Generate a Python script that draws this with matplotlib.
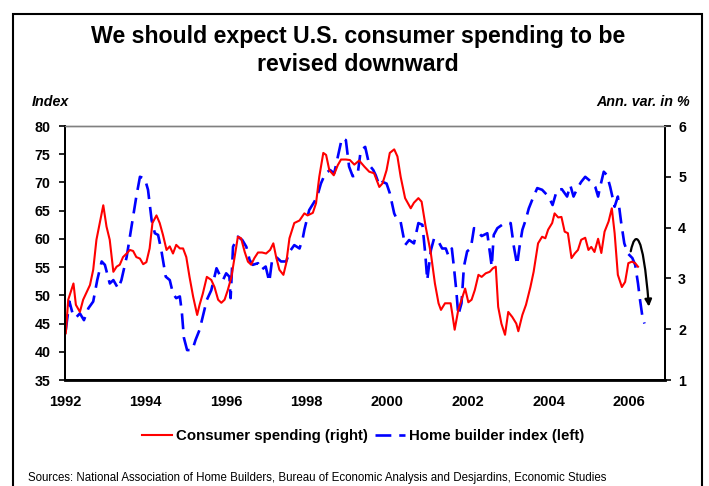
import matplotlib
matplotlib.use("Agg")
import matplotlib.pyplot as plt
from matplotlib.patches import FancyArrowPatch, Rectangle
from matplotlib.path import Path
from matplotlib.lines import Line2D

plt.rcParams['font.family'] = ['Liberation Sans', 'DejaVu Sans']

title = "We should expect U.S. consumer spending to be\nrevised downward"
left_label = "Index"
right_label = "Ann. var. in %"
source = ("Sources: National Association of Home Builders, Bureau of Economic Analysis "
          "and Desjardins, Economic Studies")
series_names = ["Consumer spending (right)", "Home builder index (left)"]
year_ticks = [1992, 1994, 1996, 1998, 2000, 2002, 2004, 2006]
left_ticks = [35, 40, 45, 50, 55, 60, 65, 70, 75, 80]
right_ticks = [1, 2, 3, 4, 5, 6]

# Consumer spending, annual variation in % (right axis)
cons_t = [1992.02, 1992.08, 1992.21, 1992.27, 1992.37, 1992.45, 1992.62, 1992.70, 1992.78, 1992.95,
          1993.03, 1993.11, 1993.20, 1993.28, 1993.36, 1993.44, 1993.53, 1993.61, 1993.69, 1993.77,
          1993.86, 1993.94, 1994.02, 1994.10, 1994.17, 1994.27, 1994.35, 1994.43, 1994.52, 1994.60,
          1994.68, 1994.76, 1994.85, 1994.93, 1995.01, 1995.09, 1995.18, 1995.28, 1995.34, 1995.42,
          1995.52, 1995.63, 1995.71, 1995.80, 1995.88, 1995.96, 1996.04, 1996.13, 1996.21, 1996.29,
          1996.37, 1996.46, 1996.54, 1996.62, 1996.70, 1996.79, 1996.89, 1996.99, 1997.09, 1997.17,
          1997.24, 1997.32, 1997.42, 1997.49, 1997.57, 1997.69, 1997.82, 1997.94, 1998.02, 1998.15,
          1998.23, 1998.31, 1998.41, 1998.48, 1998.56, 1998.67, 1998.77, 1998.85, 1998.97, 1999.07,
          1999.18, 1999.30, 1999.43, 1999.55, 1999.67, 1999.80, 1999.88, 1999.98, 2000.06, 2000.17,
          2000.25, 2000.33, 2000.44, 2000.58, 2000.66, 2000.77, 2000.85, 2000.95, 2001.08, 2001.18,
          2001.27, 2001.33, 2001.43, 2001.57, 2001.61, 2001.67, 2001.76, 2001.84, 2001.93, 2002.01,
          2002.09, 2002.17, 2002.26, 2002.34, 2002.44, 2002.54, 2002.62, 2002.69, 2002.75, 2002.83,
          2002.92, 2003.00, 2003.10, 2003.20, 2003.25, 2003.35, 2003.44, 2003.55, 2003.63, 2003.74,
          2003.84, 2003.92, 2003.99, 2004.09, 2004.15, 2004.24, 2004.32, 2004.40, 2004.48, 2004.57,
          2004.65, 2004.73, 2004.81, 2004.91, 2004.99, 2005.06, 2005.14, 2005.23, 2005.31, 2005.39,
          2005.49, 2005.57, 2005.64, 2005.72, 2005.82, 2005.90, 2005.98, 2006.07, 2006.15, 2006.22]
cons_v = [1.92, 2.58, 2.90, 2.48, 2.34, 2.58, 2.87, 3.17, 3.76, 4.44,
          4.02, 3.76, 3.13, 3.23, 3.27, 3.42, 3.49, 3.56, 3.54, 3.42,
          3.39, 3.28, 3.32, 3.59, 4.09, 4.24, 4.09, 3.86, 3.56, 3.63,
          3.49, 3.66, 3.59, 3.59, 3.42, 3.03, 2.64, 2.28, 2.48, 2.70,
          3.03, 2.97, 2.83, 2.58, 2.52, 2.58, 2.77, 3.03, 3.42, 3.82,
          3.79, 3.52, 3.33, 3.27, 3.40, 3.51, 3.51, 3.49, 3.56, 3.69,
          3.42, 3.17, 3.07, 3.30, 3.79, 4.09, 4.14, 4.28, 4.24, 4.29,
          4.48, 5.00, 5.47, 5.43, 5.13, 5.03, 5.23, 5.34, 5.34, 5.33,
          5.24, 5.32, 5.20, 5.10, 5.07, 4.80, 4.87, 5.13, 5.47, 5.54,
          5.40, 5.00, 4.58, 4.38, 4.49, 4.58, 4.51, 4.02, 3.49, 2.90,
          2.51, 2.38, 2.51, 2.51, 2.31, 1.99, 2.38, 2.58, 2.80, 2.53,
          2.58, 2.77, 3.07, 3.03, 3.10, 3.13, 3.20, 3.23, 2.44, 2.11,
          1.89, 2.34, 2.24, 2.11, 1.96, 2.28, 2.48, 2.83, 3.13, 3.69,
          3.82, 3.79, 3.96, 4.09, 4.28, 4.20, 4.21, 3.92, 3.89, 3.40,
          3.49, 3.56, 3.76, 3.80, 3.56, 3.62, 3.52, 3.78, 3.50, 3.92,
          4.12, 4.38, 3.89, 3.07, 2.83, 2.93, 3.30, 3.33, 3.30, 3.23]

# NAHB home builder index (left axis)
home_t = [1992.02, 1992.11, 1992.21, 1992.29, 1992.37, 1992.47, 1992.58, 1992.70, 1992.80, 1992.91,
          1992.99, 1993.11, 1993.20, 1993.32, 1993.40, 1993.53, 1993.65, 1993.77, 1993.86, 1993.98,
          1994.06, 1994.15, 1994.23, 1994.31, 1994.39, 1994.50, 1994.60, 1994.68, 1994.76, 1994.85,
          1994.90, 1994.95, 1995.03, 1995.16, 1995.24, 1995.34, 1995.44, 1995.52, 1995.63, 1995.76,
          1995.84, 1995.92, 1996.00, 1996.08, 1996.11, 1996.17, 1996.29, 1996.40, 1996.50, 1996.58,
          1996.66, 1996.79, 1996.87, 1996.98, 1997.07, 1997.14, 1997.24, 1997.36, 1997.49, 1997.57,
          1997.69, 1997.82, 1997.90, 1997.94, 1998.06, 1998.19, 1998.27, 1998.35, 1998.46, 1998.58,
          1998.68, 1998.79, 1998.87, 1998.97, 1999.05, 1999.14, 1999.26, 1999.34, 1999.45, 1999.55,
          1999.65, 1999.71, 1999.80, 1999.88, 1999.98, 2000.06, 2000.17, 2000.25, 2000.33, 2000.44,
          2000.54, 2000.66, 2000.77, 2000.87, 2000.94, 2000.99, 2001.08, 2001.16, 2001.27, 2001.36,
          2001.45, 2001.51, 2001.60, 2001.65, 2001.71, 2001.76, 2001.84, 2001.90, 2001.98, 2002.07,
          2002.15, 2002.21, 2002.34, 2002.48, 2002.59, 2002.64, 2002.73, 2002.85, 2002.95, 2003.06,
          2003.14, 2003.22, 2003.28, 2003.35, 2003.43, 2003.51, 2003.61, 2003.72, 2003.84, 2004.00,
          2004.10, 2004.21, 2004.33, 2004.46, 2004.54, 2004.62, 2004.71, 2004.81, 2004.91, 2005.06,
          2005.16, 2005.23, 2005.28, 2005.37, 2005.45, 2005.53, 2005.64, 2005.72, 2005.80, 2005.88,
          2005.97, 2006.08, 2006.15, 2006.22, 2006.27, 2006.33, 2006.38]
home_v = [43.9, 48.9, 46.2, 46.2, 46.8, 45.6, 47.7, 48.9, 52.7, 56.0,
          55.4, 52.1, 52.7, 51.2, 52.7, 56.8, 62.2, 67.5, 71.0, 70.7,
          68.7, 63.3, 61.0, 60.7, 58.0, 53.3, 52.7, 50.3, 49.5, 49.8,
          47.0, 42.5, 40.3, 40.3, 42.1, 43.9, 46.8, 49.2, 50.9, 54.8,
          53.6, 52.7, 53.9, 53.3, 49.5, 58.6, 60.4, 59.8, 58.6, 56.3,
          55.4, 55.7, 54.5, 55.1, 52.4, 56.3, 56.8, 56.0, 56.0, 57.7,
          58.9, 58.3, 60.1, 61.6, 65.1, 66.6, 67.8, 69.8, 71.6, 72.2,
          71.6, 75.2, 77.8, 77.5, 72.8, 71.1, 71.3, 75.7, 76.3, 73.1,
          72.2, 71.3, 69.5, 70.1, 69.8, 68.1, 64.5, 63.3, 63.0, 58.9,
          59.8, 59.2, 62.8, 62.5, 57.4, 52.7, 58.0, 60.1, 59.5, 58.3,
          58.3, 57.1, 58.3, 55.1, 50.9, 46.5, 48.6, 55.1, 57.8, 58.3,
          61.9, 61.6, 60.5, 61.0, 55.1, 60.7, 61.9, 62.5, 62.8, 62.8,
          58.6, 55.4, 58.6, 61.6, 63.3, 65.4, 67.2, 69.0, 68.7, 67.5,
          66.0, 68.7, 68.8, 67.5, 69.5, 67.5, 68.9, 70.1, 71.0, 70.1,
          69.2, 67.5, 69.2, 71.9, 71.3, 69.2, 65.7, 67.5, 63.0, 59.2,
          57.4, 56.6, 55.4, 52.1, 49.2, 46.2, 45.0]

W, H = 709, 486
fig = plt.figure(figsize=(W / 100, H / 100), dpi=100)

# outer frame
fig.patches.append(Rectangle((13 / W, -0.05), (702 - 13) / W, 1.05 - 14 / H,
                             transform=fig.transFigure, fill=False,
                             edgecolor='black', linewidth=1.5))

ax = fig.add_axes([65 / W, 1 - 380 / H, 600 / W, 254 / H])
ax2 = ax.twinx()

blue_dash = (6, 3)
ax.plot(home_t, home_v, color='#0000FF', linewidth=1.9, dashes=blue_dash)
ax2.plot(cons_t, cons_v, color='#FF0000', linewidth=1.5)

ax.set_xlim(1992, 2006.89)
ax.set_ylim(35, 80)
ax2.set_ylim(1, 6)
ax.set_yticks(left_ticks)
ax2.set_yticks(right_ticks)
ax.set_xticks(year_ticks)
ax.set_xticklabels([str(y) for y in year_ticks])

for a in (ax, ax2):
    a.tick_params(axis='x', length=0, pad=11, labelsize=10.5)
    for s in a.spines.values():
        s.set_color('black')
        s.set_linewidth(1.4)
    a.spines['top'].set_color('#808080')
    a.spines['top'].set_linewidth(1.0)
ax.spines['bottom'].set_linewidth(2.0)
ax.tick_params(axis='y', direction='out', length=4.5, width=1.2, pad=6, labelsize=10.3)
ax2.tick_params(axis='y', direction='out', length=4.5, width=1.2, pad=5, labelsize=10.3)
for lab in ax.get_xticklabels() + ax.get_yticklabels() + ax2.get_yticklabels():
    lab.set_fontweight('bold')

# curved forecast arrow
arrow_path = Path([(2006.04, 57.8), (2006.15, 61.6), (2006.34, 61.5), (2006.49, 48.0)],
                  [Path.MOVETO, Path.CURVE4, Path.CURVE4, Path.CURVE4])
arr = FancyArrowPatch(path=arrow_path, arrowstyle='-|>', mutation_scale=10,
                      color='black', linewidth=1.6, transform=ax.transData)
ax.add_patch(arr)

fig.text(358 / W, 1 - 50.5 / H, title, ha='center', va='center', fontsize=16.7,
         fontweight='bold', linespacing=1.33)
fig.text(32 / W, 1 - 102 / H, left_label, ha='left', va='center', fontsize=10.3,
         fontweight='bold', fontstyle='italic')
fig.text(690 / W, 1 - 102 / H, right_label, ha='right', va='center', fontsize=10.3,
         fontweight='bold', fontstyle='italic')
fig.text(28 / W, 1 - 478 / H, source, ha='left', va='center', fontsize=8.3)

handles = [Line2D([], [], color='#FF0000', linewidth=1.5),
           Line2D([], [], color='#0000FF', linewidth=1.9, dashes=blue_dash)]
leg = fig.legend(handles, series_names, loc='center', bbox_to_anchor=(363 / W, 1 - 436 / H),
                 ncol=2, frameon=False, handlelength=2.0, handletextpad=0.25,
                 columnspacing=0.5, borderpad=0, prop={'weight': 'bold', 'size': 10.8})

fig.savefig('out.png', dpi=100)
